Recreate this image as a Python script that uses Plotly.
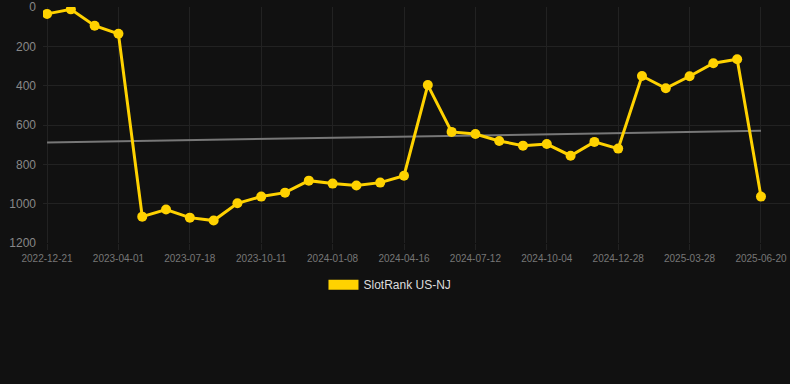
import numpy as np
import plotly.graph_objects as go

tick_labels = ["2022-12-21", "2023-04-01", "2023-07-18", "2023-10-11", "2024-01-08",
               "2024-04-16", "2024-07-12", "2024-10-04", "2024-12-28", "2025-03-28", "2025-06-20"]
ranks = [35, 12, 95, 136, 1066, 1030, 1071, 1086, 998, 964, 944, 883, 898, 908, 893,
         858, 397, 635, 646, 681, 705, 697, 756, 686, 720, 351, 413, 352, 286, 266, 964]
series_name = "SlotRank US-NJ"

x = list(range(len(ranks)))
coef = np.polyfit(x, ranks, 1)
trend = [coef[0] * x[0] + coef[1], coef[0] * x[-1] + coef[1]]

gold = "#FFD200"
fig = go.Figure()
fig.add_trace(go.Scatter(x=[x[0], x[-1]], y=trend, mode="lines",
                         line=dict(color="#777777", width=2), showlegend=False, hoverinfo="skip"))
fig.add_trace(go.Scatter(x=x, y=ranks, mode="lines+markers", name=series_name,
                         line=dict(color=gold, width=3),
                         marker=dict(color=gold, size=10), showlegend=False))
# legend-only swatch
fig.add_trace(go.Scatter(x=[None], y=[None], mode="lines", name=series_name,
                         line=dict(color=gold, width=12), showlegend=True))

fig.update_layout(
    width=790, height=384,
    paper_bgcolor="#111111", plot_bgcolor="#111111",
    margin=dict(l=43, r=0, t=7, b=141),
    font=dict(family="Liberation Sans, Arial, sans-serif", color="#888888", size=10),
    showlegend=True,
    legend=dict(orientation="h", x=0.4645, xanchor="center",
                y=-0.115, yanchor="top",
                font=dict(color="#dddddd", size=12)),
    xaxis=dict(range=[-0.17, 31.22], tickvals=x[::3], ticktext=tick_labels,
               showgrid=True, gridcolor="#222222", gridwidth=1, zeroline=False,
               ticks="outside", ticklen=6, tickcolor="#222222",
               tickfont=dict(color="#777777", size=10), showline=False),
    yaxis=dict(range=[1200, 0], tickvals=[0, 200, 400, 600, 800, 1000, 1200],
               showgrid=True, gridcolor="#222222", zeroline=False,
               tickfont=dict(color="#888888", size=12), ticks="", ticklabelstandoff=6),
)

fig.write_html("out.html", config={"displayModeBar": False},
               post_script="document.body.style.margin='0';document.body.style.background='#111111';")
